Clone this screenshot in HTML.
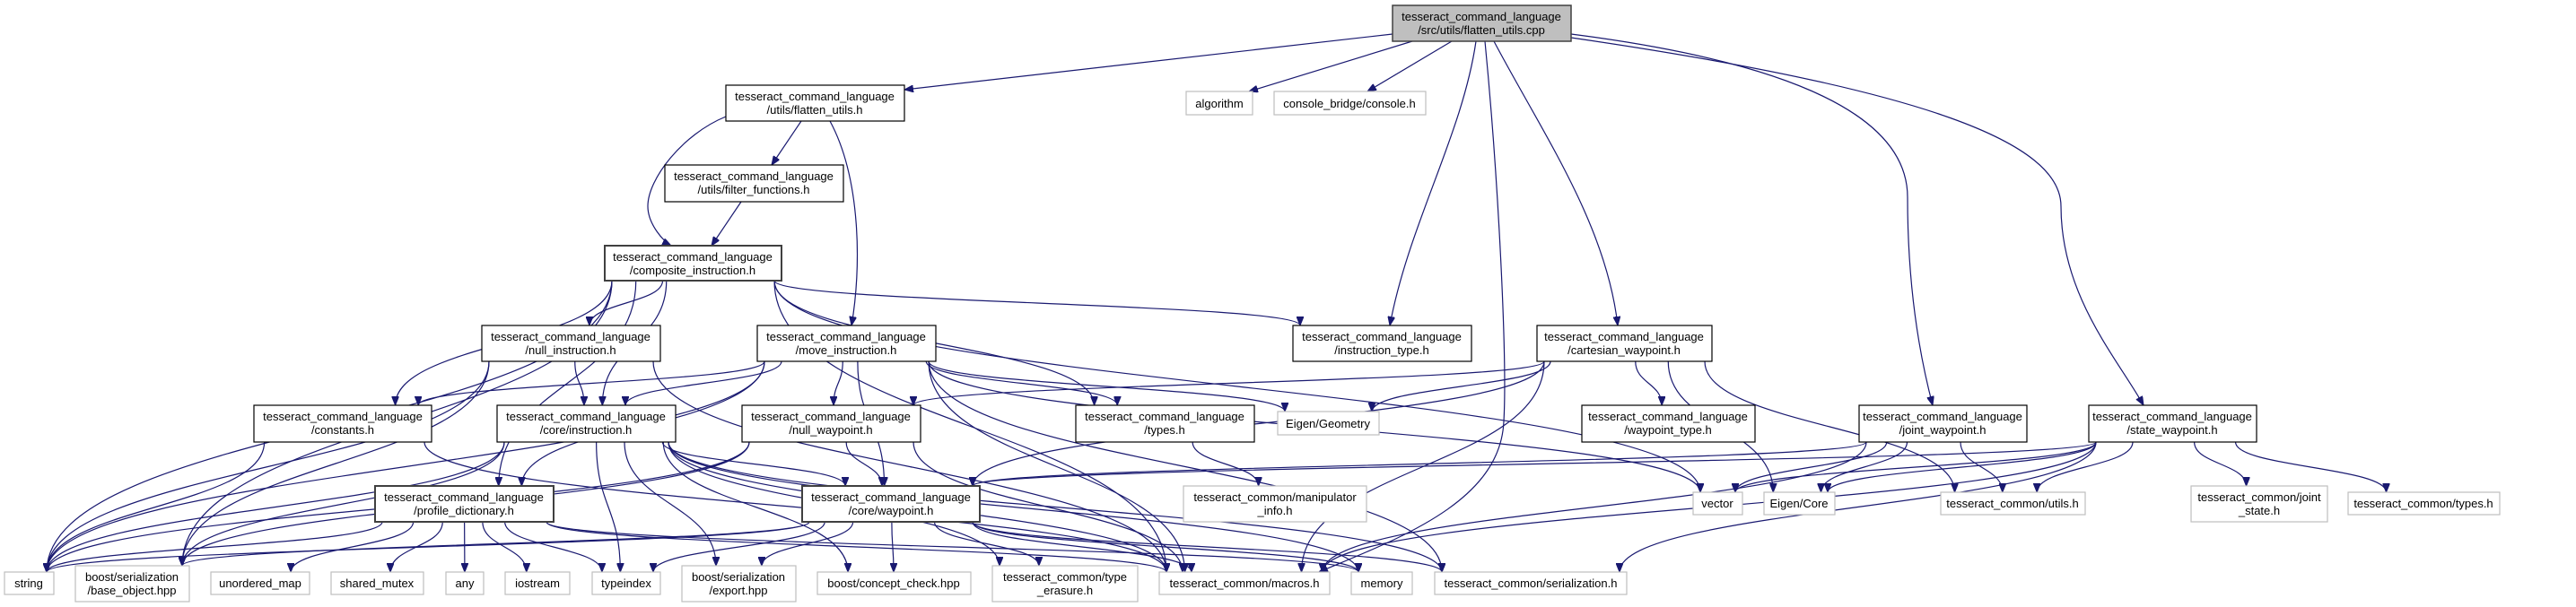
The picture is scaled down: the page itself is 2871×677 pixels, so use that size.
<!DOCTYPE html>
<html><head><meta charset="utf-8"><style>
html,body{margin:0;padding:0;background:#fff;}
svg{display:block;}
text{font-family:"Liberation Sans",sans-serif;font-size:13px;fill:#000;text-anchor:middle;}
.n{fill:#fff;stroke:#000;stroke-width:1.2;}
.g{fill:#fff;stroke:#bfbfbf;stroke-width:1.2;}
.b{fill:#fff;stroke:#404040;stroke-width:2;}
.t{fill:#bfbfbf;stroke:#404040;stroke-width:1.5;}
.e{fill:none;stroke:#191970;stroke-width:1.2;}
</style></head><body>
<svg id="s" width="2871" height="677" viewBox="0 0 2871 677" xmlns="http://www.w3.org/2000/svg">
<defs><marker id="a" viewBox="0 0 10 8" refX="10" refY="4" markerWidth="10" markerHeight="8" markerUnits="userSpaceOnUse" orient="auto"><path d="M0,0L10,4L0,8z" fill="#191970" stroke="#191970"/></marker></defs>
<g id="edges"></g>
<g id="nodes">
<rect class="t" x="1552" y="6" width="199" height="40"/><text x="1651" y="23">tesseract_command_language</text><text x="1651" y="38">/src/utils/flatten_utils.cpp</text>
<rect class="n" x="809" y="95" width="199" height="40"/><text x="908" y="112">tesseract_command_language</text><text x="908" y="127">/utils/flatten_utils.h</text>
<rect class="g" x="1322" y="102" width="74" height="26"/><text x="1359" y="120">algorithm</text>
<rect class="g" x="1420" y="102" width="169" height="26"/><text x="1504" y="120">console_bridge/console.h</text>
<rect class="n" x="741" y="184" width="199" height="41"/><text x="840" y="201">tesseract_command_language</text><text x="840" y="216">/utils/filter_functions.h</text>
<rect class="b" x="674" y="274" width="197" height="39"/><text x="772" y="291">tesseract_command_language</text><text x="772" y="306">/composite_instruction.h</text>
<rect class="n" x="537" y="363" width="199" height="40"/><text x="636" y="380">tesseract_command_language</text><text x="636" y="395">/null_instruction.h</text>
<rect class="n" x="844" y="363" width="199" height="40"/><text x="943" y="380">tesseract_command_language</text><text x="943" y="395">/move_instruction.h</text>
<rect class="n" x="1441" y="363" width="199" height="40"/><text x="1540" y="380">tesseract_command_language</text><text x="1540" y="395">/instruction_type.h</text>
<rect class="n" x="1713" y="363" width="195" height="40"/><text x="1810" y="380">tesseract_command_language</text><text x="1810" y="395">/cartesian_waypoint.h</text>
<rect class="n" x="283" y="452" width="198" height="41"/><text x="382" y="469">tesseract_command_language</text><text x="382" y="484">/constants.h</text>
<rect class="n" x="554" y="452" width="199" height="41"/><text x="653" y="469">tesseract_command_language</text><text x="653" y="484">/core/instruction.h</text>
<rect class="n" x="827" y="452" width="199" height="41"/><text x="926" y="469">tesseract_command_language</text><text x="926" y="484">/null_waypoint.h</text>
<rect class="n" x="1199" y="452" width="199" height="41"/><text x="1298" y="469">tesseract_command_language</text><text x="1298" y="484">/types.h</text>
<rect class="g" x="1424" y="459" width="113" height="26"/><text x="1480" y="477">Eigen/Geometry</text>
<rect class="n" x="1763" y="452" width="193" height="41"/><text x="1859" y="469">tesseract_command_language</text><text x="1859" y="484">/waypoint_type.h</text>
<rect class="n" x="2072" y="452" width="187" height="41"/><text x="2165" y="469">tesseract_command_language</text><text x="2165" y="484">/joint_waypoint.h</text>
<rect class="n" x="2328" y="452" width="187" height="41"/><text x="2421" y="469">tesseract_command_language</text><text x="2421" y="484">/state_waypoint.h</text>
<rect class="b" x="418" y="542" width="199" height="40"/><text x="517" y="559">tesseract_command_language</text><text x="517" y="574">/profile_dictionary.h</text>
<rect class="b" x="894" y="542" width="198" height="40"/><text x="993" y="559">tesseract_command_language</text><text x="993" y="574">/core/waypoint.h</text>
<rect class="g" x="1319" y="542" width="204" height="40"/><text x="1421" y="559">tesseract_common/manipulator</text><text x="1421" y="574">_info.h</text>
<rect class="g" x="1887" y="549" width="55" height="25"/><text x="1914" y="566">vector</text>
<rect class="g" x="1966" y="549" width="79" height="25"/><text x="2005" y="566">Eigen/Core</text>
<rect class="g" x="2163" y="549" width="161" height="25"/><text x="2243" y="566">tesseract_common/utils.h</text>
<rect class="g" x="2442" y="542" width="152" height="40"/><text x="2518" y="559">tesseract_common/joint</text><text x="2518" y="574">_state.h</text>
<rect class="g" x="2617" y="549" width="169" height="25"/><text x="2701" y="566">tesseract_common/types.h</text>
<rect class="g" x="5" y="638" width="55" height="25"/><text x="32" y="655">string</text>
<rect class="g" x="84" y="631" width="127" height="40"/><text x="147" y="648">boost/serialization</text><text x="147" y="663">/base_object.hpp</text>
<rect class="g" x="235" y="638" width="110" height="25"/><text x="290" y="655">unordered_map</text>
<rect class="g" x="369" y="638" width="103" height="25"/><text x="420" y="655">shared_mutex</text>
<rect class="g" x="497" y="638" width="42" height="25"/><text x="518" y="655">any</text>
<rect class="g" x="563" y="638" width="72" height="25"/><text x="599" y="655">iostream</text>
<rect class="g" x="660" y="638" width="76" height="25"/><text x="698" y="655">typeindex</text>
<rect class="g" x="760" y="631" width="127" height="40"/><text x="823" y="648">boost/serialization</text><text x="823" y="663">/export.hpp</text>
<rect class="g" x="911" y="638" width="171" height="25"/><text x="996" y="655">boost/concept_check.hpp</text>
<rect class="g" x="1106" y="631" width="162" height="40"/><text x="1187" y="648">tesseract_common/type</text><text x="1187" y="663">_erasure.h</text>
<rect class="g" x="1292" y="638" width="190" height="25"/><text x="1387" y="655">tesseract_common/macros.h</text>
<rect class="g" x="1506" y="638" width="68" height="25"/><text x="1540" y="655">memory</text>
<rect class="g" x="1599" y="638" width="214" height="25"/><text x="1706" y="655">tesseract_common/serialization.h</text>
</g>
</svg>
<script>
var N={T:[1552,6,1751,46],FU:[809,95,1008,135],AL:[1322,102,1396,128],CB:[1420,102,1589,128],FF:[741,184,940,225],CI:[674,274,871,313],NI:[537,363,736,403],MI:[844,363,1043,403],IT:[1441,363,1640,403],CW:[1713,363,1908,403],CO:[283,452,481,493],IN:[554,452,753,493],NW:[827,452,1026,493],TY:[1199,452,1398,493],EG:[1424,459,1537,485],WT:[1763,452,1956,493],JW:[2072,452,2259,493],SW:[2328,452,2515,493],PD:[418,542,617,582],WP:[894,542,1092,582],MA:[1319,542,1523,582],VE:[1887,549,1942,574],EC:[1966,549,2045,574],UT:[2163,549,2324,574],JS:[2442,542,2594,582],TT:[2617,549,2786,574],ST:[5,638,60,663],BO:[84,631,211,671],UM:[235,638,345,663],SM:[369,638,472,663],AN:[497,638,539,663],IO:[563,638,635,663],TI:[660,638,736,663],EX:[760,631,887,671],CC:[911,638,1082,663],TE:[1106,631,1268,671],MC:[1292,638,1482,663],ME:[1506,638,1574,663],SE:[1599,638,1813,663]};
var O={
"T FU":"M1552,38L1008,100",
"T AL":"M1574,46L1392,102",
"T CB":"M1618,46L1524,102",
"T IT":"M1645,46C1630,150 1570,250 1549,363",
"T MC":"M1655,46C1670,200 1680,400 1676,470C1672,560 1560,600 1470,638",
"T CW":"M1665,46C1720,150 1790,250 1803,363",
"T JW":"M1751,38C2000,70 2126,130 2126,220C2126,300 2135,380 2154,452",
"T SW":"M1751,42C2150,100 2297,160 2297,230C2297,330 2360,400 2389,452",
"FU CI":"M809,130C760,150 722,200 722,230C722,250 740,270 748,274",
"FU FF":"M893,135L860,184",
"FU MI":"M925,135C960,200 960,300 949,363",
"FF CI":"M826,225L793,274"
};
var E="T FU,T AL,T CB,T IT,T MC,T CW,T JW,T SW,FU CI,FU FF,FU MI,FF CI,CI ST,CI BO,CI CO,CI NI,CI IN,CI PD,CI IT,CI TY,CI VE,CI MC,NI ST,NI BO,NI IN,NI MC,MI CO,MI IN,MI PD,MI NW,MI TY,MI EG,MI MC,MI SE,MI WP,MI VE,MI ST,CO ST,CO MC,IN ST,IN BO,IN WP,IN TI,IN EX,IN CC,IN TE,IN MC,IN SE,IN ME,NW WP,NW BO,NW MC,NW ST,CW NW,CW EG,CW WT,CW WP,CW MC,CW EC,CW UT,JW VE,JW EC,JW UT,JW WP,JW MC,SW VE,SW EC,SW UT,SW JS,SW TT,SW WP,SW MC,SW SE,TY MA,PD ST,PD UM,PD SM,PD AN,PD IO,PD TI,PD ME,PD MC,WP ST,WP BO,WP TI,WP CC,WP EX,WP TE,WP MC,WP ME,WP SE".split(",");
var g=document.getElementById("edges"),h="";
function cl(v,a,b){return Math.max(a+8,Math.min(b-8,v));}
E.forEach(function(p){
if(O[p]){h+='<path class="e" marker-end="url(#a)" d="'+O[p]+'"/>';return;}
var q=p.split(" "),A=N[q[0]],B=N[q[1]];
var acx=(A[0]+A[2])/2,bcx=(B[0]+B[2])/2;
var sx=cl(acx+(bcx-acx)*0.25,A[0],A[2]),sy=A[3];
var ex=cl(bcx+(acx-bcx)*0.15,B[0],B[2]),ey=B[1];
var my=(sy+ey)/2;
h+='<path class="e" marker-end="url(#a)" d="M'+sx+','+sy+'C'+sx+','+my+' '+ex+','+my+' '+ex+','+ey+'"/>';});
g.innerHTML=h;
</script>
</body></html>
